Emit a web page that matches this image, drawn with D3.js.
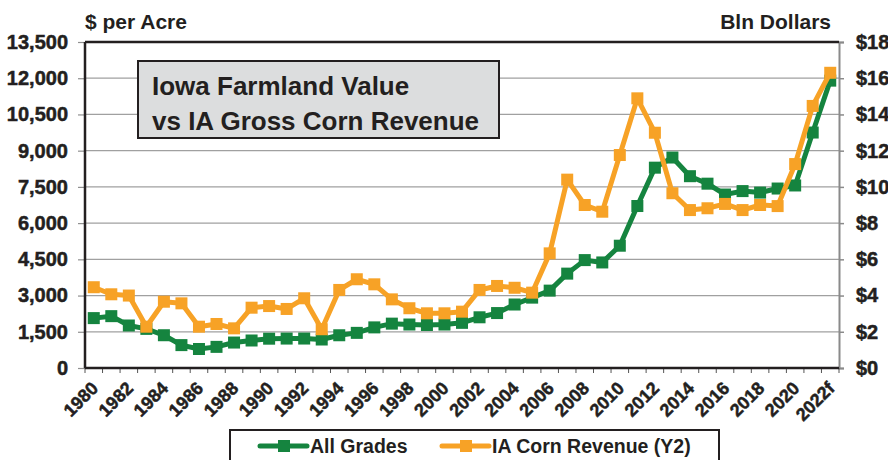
<!DOCTYPE html>
<html>
<head>
<meta charset="utf-8">
<script src="https://cdn.jsdelivr.net/npm/d3@7"></script>
<style>
  body { margin: 0; background: #fff; }
  text { font-family: "Liberation Sans", Arial, sans-serif; font-weight: bold; fill: #231f20; }
  .heavy { stroke: #231f20; stroke-width: 0.5px; }
</style>
</head>
<body>
<div id="chart"></div>
<script>
// categories and series values
const years = ['1980','1981','1982','1983','1984','1985','1986','1987','1988','1989',
  '1990','1991','1992','1993','1994','1995','1996','1997','1998','1999',
  '2000','2001','2002','2003','2004','2005','2006','2007','2008','2009',
  '2010','2011','2012','2013','2014','2015','2016','2017','2018','2019',
  '2020','2021','2022f'];

// Iowa farmland value, all grades, $ per acre
const allGrades = [2066, 2147, 1760, 1620, 1357, 948, 787, 875, 1054, 1139,
  1214, 1219, 1220, 1180, 1356, 1455, 1682, 1837, 1801, 1781,
  1800, 1870, 2100, 2275, 2629, 2914, 3204, 3908, 4468, 4371,
  5064, 6708, 8296, 8716, 7943, 7633, 7183, 7326, 7264, 7432,
  7559, 9751, 11900];

// IA gross corn revenue, billion dollars (Y2)
const cornRevenue = [4.46, 4.07, 4.0, 2.28, 3.66, 3.57, 2.28, 2.43, 2.19, 3.33,
  3.42, 3.26, 3.85, 2.14, 4.31, 4.9, 4.62, 3.79, 3.30, 3.02,
  3.02, 3.11, 4.31, 4.53, 4.43, 4.16, 6.33, 10.4, 9.0, 8.63,
  11.76, 14.89, 12.99, 9.65, 8.72, 8.82, 9.06, 8.72, 9.0, 8.94,
  11.26, 14.47, 16.3];

const leftTicks = [0, 1500, 3000, 4500, 6000, 7500, 9000, 10500, 12000, 13500];
const rightTicks = [0, 2, 4, 6, 8, 10, 12, 14, 16, 18];

const green = '#15843f';
const orange = '#f7a226';

const W = 888, H = 460;
const margin = { top: 42, left: 85, right: 49, bottom: 92 };
const width = W - margin.left - margin.right;
const height = H - margin.top - margin.bottom;

const svg = d3.select('#chart')
  .append('svg')
  .attr('width', W)
  .attr('height', H);

const g = svg.append('g')
  .attr('transform', `translate(${margin.left},${margin.top})`);

const x = d3.scaleBand().domain(years).range([0, width]).padding(0);
const yLeft = d3.scaleLinear().domain([0, 13500]).range([height, 0]);
const yRight = d3.scaleLinear().domain([0, 18]).range([height, 0]);
const cx = d => x(d) + x.bandwidth() / 2;

// gridlines
g.selectAll('.grid')
  .data(leftTicks.slice(1))
  .enter()
  .append('line')
  .attr('x1', 0).attr('x2', width)
  .attr('y1', d => yLeft(d)).attr('y2', d => yLeft(d))
  .attr('stroke', '#a0a0a0').attr('stroke-width', 1.2);

// left axis
const leftAxis = g.append('g')
  .call(d3.axisLeft(yLeft).tickValues(leftTicks).tickFormat(d3.format(',')).tickSize(7).tickPadding(10));
leftAxis.select('.domain').remove();
leftAxis.selectAll('line').attr('stroke', '#909090').attr('stroke-width', 1.2);
leftAxis.selectAll('text').attr('class', 'heavy').style('font-size', '20px').style('font-weight', 'bold').attr('fill', '#231f20');

// right axis
const rightAxis = g.append('g')
  .attr('transform', `translate(${width},0)`)
  .call(d3.axisRight(yRight).tickValues(rightTicks).tickFormat(d => '$' + d).tickSize(5).tickPadding(12));
rightAxis.select('.domain').attr('stroke', '#8a8a8a').attr('stroke-width', 2);
rightAxis.selectAll('line').attr('stroke', '#8a8a8a').attr('stroke-width', 1.5);
rightAxis.selectAll('text').attr('class', 'heavy').style('font-size', '20px').style('font-weight', 'bold').attr('fill', '#231f20');

// bottom axis: ticks on band edges, labels every other year
const edges = years.map(d => x(d)).concat([width]);
g.selectAll('.xtick')
  .data(edges)
  .enter()
  .append('line')
  .attr('x1', d => d).attr('x2', d => d)
  .attr('y1', height).attr('y2', height + 5)
  .attr('stroke', '#555').attr('stroke-width', 1);

g.selectAll('.xlabel')
  .data(years.filter((d, i) => i % 2 === 0))
  .enter()
  .append('text')
  .attr('class', 'heavy')
  .attr('text-anchor', 'end')
  .attr('transform', d => `translate(${cx(d) + 1},${height + 17}) rotate(-45)`)
  .attr('dy', '0.35em')
  .style('font-size', '18px')
  .text(d => d);

// frame: left, top, bottom dark
g.append('line').attr('x1', 0).attr('x2', 0).attr('y1', 0).attr('y2', height)
  .attr('stroke', '#231f20').attr('stroke-width', 2.5);
g.append('line').attr('x1', 0).attr('x2', width).attr('y1', 0).attr('y2', 0)
  .attr('stroke', '#231f20').attr('stroke-width', 2.5);
g.append('line').attr('x1', 0).attr('x2', width).attr('y1', height).attr('y2', height)
  .attr('stroke', '#231f20').attr('stroke-width', 2.5);

// series
function drawSeries(values, yScale, color) {
  const line = d3.line()
    .x((d, i) => cx(years[i]))
    .y(d => yScale(d));
  g.append('path')
    .datum(values)
    .attr('d', line)
    .attr('fill', 'none')
    .attr('stroke', color)
    .attr('stroke-width', 5)
    .attr('stroke-linejoin', 'round');
  g.selectAll(null)
    .data(values)
    .enter()
    .append('rect')
    .attr('x', (d, i) => cx(years[i]) - 6)
    .attr('y', d => yScale(d) - 6)
    .attr('width', 12)
    .attr('height', 12)
    .attr('fill', color);
}
drawSeries(allGrades, yLeft, green);
drawSeries(cornRevenue, yRight, orange);

// axis titles
svg.append('text')
  .attr('x', 85).attr('y', 29)
  .style('font-size', '21px')
  .text('$ per Acre');
svg.append('text')
  .attr('x', 831).attr('y', 29)
  .attr('text-anchor', 'end')
  .style('font-size', '21px')
  .text('Bln Dollars');

// title box
svg.append('rect')
  .attr('x', 138).attr('y', 61)
  .attr('width', 361).attr('height', 77)
  .attr('fill', '#dcddde')
  .attr('stroke', '#231f20').attr('stroke-width', 2);
svg.append('text')
  .attr('x', 152).attr('y', 95)
  .style('font-size', '26px')
  .text('Iowa Farmland Value');
svg.append('text')
  .attr('x', 152).attr('y', 130)
  .style('font-size', '26px')
  .text('vs IA Gross Corn Revenue');

// legend
svg.append('rect')
  .attr('x', 230).attr('y', 430)
  .attr('width', 489).attr('height', 40)
  .attr('fill', '#fff')
  .attr('stroke', '#231f20').attr('stroke-width', 2);

const legendItems = [
  { name: 'All Grades', color: green, x0: 260 },
  { name: 'IA Corn Revenue (Y2)', color: orange, x0: 442 }
];
legendItems.forEach(item => {
  svg.append('line')
    .attr('x1', item.x0).attr('x2', item.x0 + 47)
    .attr('y1', 446).attr('y2', 446)
    .attr('stroke', item.color).attr('stroke-width', 5)
    .attr('stroke-linecap', 'round');
  svg.append('rect')
    .attr('x', item.x0 + 18).attr('y', 440)
    .attr('width', 12).attr('height', 12)
    .attr('fill', item.color);
  svg.append('text')
    .attr('x', item.x0 + 50).attr('y', 453)
    .style('font-size', '19.5px')
    .text(item.name);
});
</script>
</body>
</html>
